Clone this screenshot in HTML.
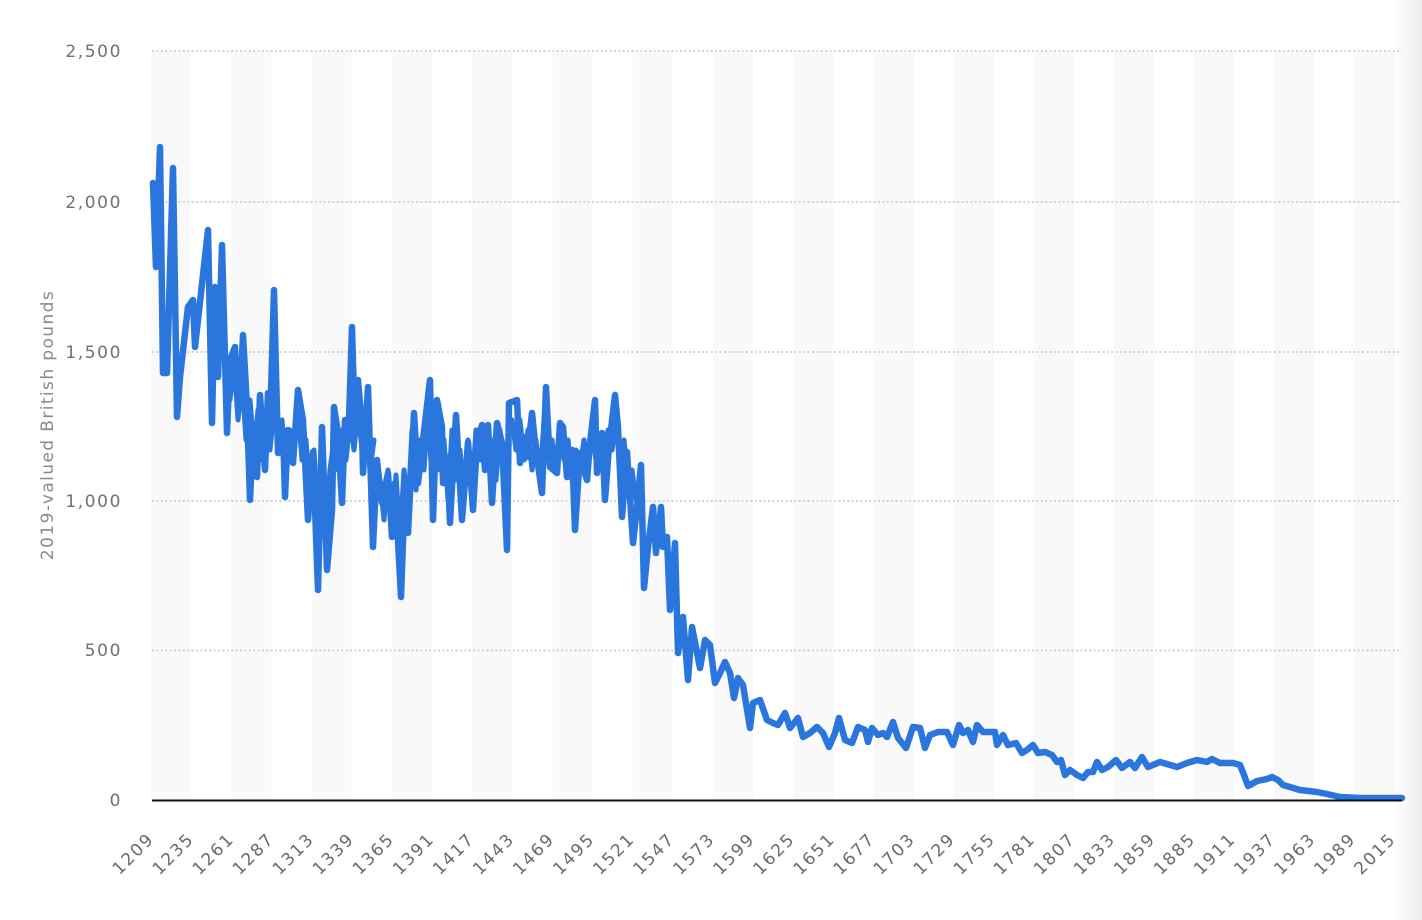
<!DOCTYPE html>
<html>
<head>
<meta charset="utf-8">
<style>
  html,body{margin:0;padding:0;background:#fff;}
  svg{display:block;}
  .yl{font-family:"DejaVu Sans","Liberation Sans",sans-serif;font-size:17px;fill:#707070;letter-spacing:1.6px;}
  .xl{font-family:"DejaVu Sans","Liberation Sans",sans-serif;font-size:17px;fill:#6a6a6a;letter-spacing:1.8px;}
  .tt{font-family:"DejaVu Sans","Liberation Sans",sans-serif;font-size:17px;fill:#8a8a8a;letter-spacing:1.4px;}
</style>
</head>
<body>
<svg width="1422" height="920" viewBox="0 0 1422 920" xmlns="http://www.w3.org/2000/svg">
  <defs>
    <linearGradient id="edge" x1="0" y1="0" x2="1" y2="0">
      <stop offset="0" stop-color="#000" stop-opacity="0"/>
      <stop offset="1" stop-color="#000" stop-opacity="0.07"/>
    </linearGradient>
  </defs>
  <rect width="1422" height="920" fill="#fff"/>
  <!-- bands -->
  <g fill="#f9f9f9">
    <rect x="151" y="51" width="40.13" height="749"/>
    <rect x="231.26" y="51" width="40.13" height="749"/>
    <rect x="311.52" y="51" width="40.13" height="749"/>
    <rect x="391.78" y="51" width="40.13" height="749"/>
    <rect x="472.04" y="51" width="40.13" height="749"/>
    <rect x="552.3" y="51" width="40.13" height="749"/>
    <rect x="632.56" y="51" width="40.13" height="749"/>
    <rect x="712.82" y="51" width="40.13" height="749"/>
    <rect x="793.08" y="51" width="40.13" height="749"/>
    <rect x="873.34" y="51" width="40.13" height="749"/>
    <rect x="953.6" y="51" width="40.13" height="749"/>
    <rect x="1033.86" y="51" width="40.13" height="749"/>
    <rect x="1114.12" y="51" width="40.13" height="749"/>
    <rect x="1194.38" y="51" width="40.13" height="749"/>
    <rect x="1274.64" y="51" width="40.13" height="749"/>
    <rect x="1354.9" y="51" width="40.13" height="749"/>
  </g>
  <rect x="1392" y="0" width="30" height="920" fill="url(#edge)"/>
  <!-- gridlines -->
  <g stroke="#c6c6c6" stroke-width="1.5" stroke-dasharray="2 2.4">
    <line x1="152" y1="51" x2="1402" y2="51"/>
    <line x1="152" y1="202" x2="1402" y2="202"/>
    <line x1="152" y1="352" x2="1402" y2="352"/>
    <line x1="152" y1="501" x2="1402" y2="501"/>
    <line x1="152" y1="650.5" x2="1402" y2="650.5"/>
  </g>
  <!-- y labels -->
  <g class="yl" text-anchor="end">
    <text x="122" y="57">2,500</text>
    <text x="122" y="208">2,000</text>
    <text x="122" y="358">1,500</text>
    <text x="122" y="507">1,000</text>
    <text x="122" y="656">500</text>
    <text x="122" y="806">0</text>
  </g>
  <text class="tt" transform="translate(53 425) rotate(-90)" text-anchor="middle">2019-valued British pounds</text>
  <!-- series -->
  <g fill="none" stroke="#2a76dd" stroke-linejoin="round" stroke-linecap="round">
  <polyline stroke-width="5" points="230,400 234,360 238,420 242,380 246,440 250,400 254,450 258,410 262,460 266,420 270,450 274,410 278,440 282,420 286,470 290,430 294,450 298,410 302,460 306,440 310,500 314,450 318,520 322,460 326,520 330,470 334,440 338,470 342,430 346,460 350,420 354,450 358,410 362,450 366,420 370,470 374,440"/>
  <polyline stroke-width="5" points="380,480 384,520 388,470 392,530 396,475 400,540 404,470 408,510 412,430 416,490 420,440 424,470 428,410 432,480 436,420 440,470 444,440 448,500 452,430 456,480 460,450 464,500 468,440 472,490 476,430 480,460 484,430 488,470 492,440 496,480 500,430 504,470 508,440 512,420 516,450 520,420 524,460 528,430 532,470 536,440 540,480 544,420 548,460 552,440 556,470 560,430 564,460 568,440 572,480 576,450 580,470 584,440 588,470 592,430 596,460 600,440 604,470 608,430 612,450 616,420 620,470 624,440 628,480 632,470 636,500 640,480"/>
  <polyline stroke-width="6.5" points="
153,183 156,267 160,147 163,373 167,373 173,168 177,417 180,377 188,307 193,300 195,347 208,230 212,423 215,287 218,377 222,245 227,433 230,360 235,347 237,393 240,403 243,335 247,407 250,500 253,433 257,477 260,395 265,470 268,393 270,427 274,290 278,453 283,430 285,497 288,430 293,463 298,390 303,420 308,520 313,452 318,590 322,427 327,570 332,510 334,407 338,433 342,503 345,420 349,420 352,327 355,433 358,380 362,427 363,473 368,387 373,547 377,460
378,470 382,503 388,473 392,537 395,483 401,597 405,487 408,533 414,413 418,483 423,440 430,380 433,520 437,400 442,427 443,483 447,457 450,523 456,415 462,520 468,442 473,510 477,443 482,425 485,470 488,425 492,503 497,423 502,443 507,550 509,403 517,400 520,463 524,437 527,457 532,413 535,443 542,493 546,387 550,467 557,473 560,423 563,427 567,477 572,450 575,530 580,453 583,467 587,480 590,443 595,400 597,473 602,433 605,500 609,447 615,395 618,427 622,517 627,452 633,543 637,507 641,465 644,588 648,547 653,507 656,553 661,507 663,547 667,537 670,610 675,543 678,653 683,617 688,680 692,627 700,668 705,640 710,645 715,683 720,673 725,662 730,673 734,698 738,678 743,685 750,728 753,703 760,700 767,720 773,723 778,725 785,713 790,728 798,718 803,737 810,733 817,727 823,733 829,747 835,733 839,718 845,740 852,743 858,727 865,730 868,742 872,728 878,735 883,733 887,737 893,722 898,738 906,748 913,727 920,728 925,748 930,735 938,732 947,732 953,745 959,725 963,733 968,730 973,742 977,725 983,732 995,732 997,745 1003,735 1008,745 1016,743 1022,753 1027,750 1033,745 1038,753 1045,752 1052,755 1057,762 1061,760 1065,775 1070,770 1077,775 1083,778 1088,772 1093,772 1097,762 1102,770 1108,767 1116,760 1122,768 1130,762 1135,768 1142,757 1148,767 1160,762 1177,767 1187,763 1197,760 1207,762 1212,759 1220,763 1233,763 1240,765 1244,775 1248,786 1250,785 1257,781 1267,779 1272,777 1278,780 1283,785 1300,790 1317,792 1327,794 1340,797 1360,798 1402,798"/>
  </g>
  <!-- axis -->
  <line x1="152" y1="800.5" x2="1402" y2="800.5" stroke="#111" stroke-width="2"/>
  <!-- x labels -->
  <g class="xl" text-anchor="end">
    <text x="155" y="840" transform="rotate(-45 155 840)">1209</text>
    <text x="195.06" y="840" transform="rotate(-45 195.06 840)">1235</text>
    <text x="235.12" y="840" transform="rotate(-45 235.12 840)">1261</text>
    <text x="275.18" y="840" transform="rotate(-45 275.18 840)">1287</text>
    <text x="315.24" y="840" transform="rotate(-45 315.24 840)">1313</text>
    <text x="355.3" y="840" transform="rotate(-45 355.3 840)">1339</text>
    <text x="395.36" y="840" transform="rotate(-45 395.36 840)">1365</text>
    <text x="435.42" y="840" transform="rotate(-45 435.42 840)">1391</text>
    <text x="475.48" y="840" transform="rotate(-45 475.48 840)">1417</text>
    <text x="515.54" y="840" transform="rotate(-45 515.54 840)">1443</text>
    <text x="555.6" y="840" transform="rotate(-45 555.6 840)">1469</text>
    <text x="595.66" y="840" transform="rotate(-45 595.66 840)">1495</text>
    <text x="635.72" y="840" transform="rotate(-45 635.72 840)">1521</text>
    <text x="675.78" y="840" transform="rotate(-45 675.78 840)">1547</text>
    <text x="715.84" y="840" transform="rotate(-45 715.84 840)">1573</text>
    <text x="755.9" y="840" transform="rotate(-45 755.9 840)">1599</text>
    <text x="795.96" y="840" transform="rotate(-45 795.96 840)">1625</text>
    <text x="836.02" y="840" transform="rotate(-45 836.02 840)">1651</text>
    <text x="876.08" y="840" transform="rotate(-45 876.08 840)">1677</text>
    <text x="916.14" y="840" transform="rotate(-45 916.14 840)">1703</text>
    <text x="956.2" y="840" transform="rotate(-45 956.2 840)">1729</text>
    <text x="996.26" y="840" transform="rotate(-45 996.26 840)">1755</text>
    <text x="1036.32" y="840" transform="rotate(-45 1036.32 840)">1781</text>
    <text x="1076.38" y="840" transform="rotate(-45 1076.38 840)">1807</text>
    <text x="1116.44" y="840" transform="rotate(-45 1116.44 840)">1833</text>
    <text x="1156.5" y="840" transform="rotate(-45 1156.5 840)">1859</text>
    <text x="1196.56" y="840" transform="rotate(-45 1196.56 840)">1885</text>
    <text x="1236.62" y="840" transform="rotate(-45 1236.62 840)">1911</text>
    <text x="1276.68" y="840" transform="rotate(-45 1276.68 840)">1937</text>
    <text x="1316.74" y="840" transform="rotate(-45 1316.74 840)">1963</text>
    <text x="1356.8" y="840" transform="rotate(-45 1356.8 840)">1989</text>
    <text x="1396.86" y="840" transform="rotate(-45 1396.86 840)">2015</text>
  </g>
</svg>
</body>
</html>
